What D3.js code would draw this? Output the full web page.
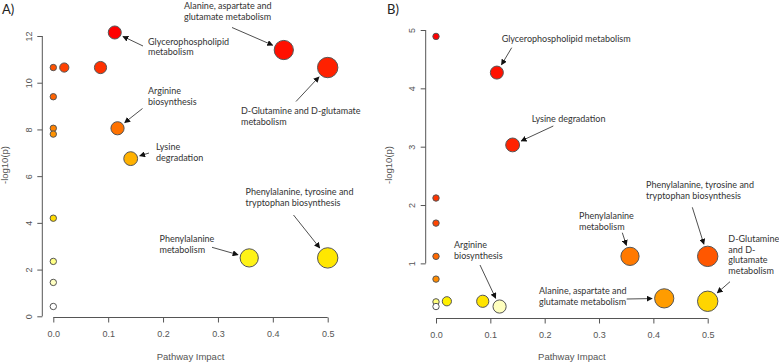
<!DOCTYPE html>
<html>
<head>
<meta charset="utf-8">
<script src="https://cdn.jsdelivr.net/npm/d3@7"></script>
<style>
  body { margin: 0; background: #fff; }
  svg { display: block; }
  .tick text, .axis-title { font-family: "Liberation Sans", Arial, sans-serif; fill: #555; }
  .note { font-family: Lato, "Open Sans", sans-serif; font-size: 9px; fill: #333; }
</style>
</head>
<body>
<div id="chart"></div>
<script>
var width = 779;
var height = 364;

// panel A
var impactA = [0.112, 0.42, 0.5, 0.086, 0.02, 0.0, 0.0, 0.117, 0.0, 0.0, 0.141, 0.0, 0.5, 0.357, 0.0, 0.0, 0.0];
var logpA   = [12.15, 11.4, 10.65, 10.65, 10.65, 10.65, 9.4, 8.05, 8.05, 7.8, 6.75, 4.2, 2.5, 2.5, 2.35, 1.45, 0.42];
var namesA  = ['Glycerophospholipid', 'Alanine', 'D-Glutamine', '', '', '', '', 'Arginine', '', '', 'Lysine', '',
               'PheTyrTrp', 'Phenylalanine', '', '', ''];

// panel B
var impactB = [0.0, 0.112, 0.141, 0.0, 0.0, 0.5, 0.0, 0.357, 0.0, 0.42, 0.5, 0.086, 0.02, 0.0, 0.117, 0.0];
var logpB   = [4.89, 4.27, 3.03, 2.12, 1.69, 1.12, 1.12, 1.12, 0.73, 0.40, 0.35, 0.35, 0.35, 0.34, 0.26, 0.26];
var namesB  = ['', 'Glycerophospholipid', 'Lysine', '', '', 'PheTyrTrp', '', 'Phenylalanine', '', 'Alanine',
               'D-Glutamine', '', '', '', 'Arginine', ''];

var xTicks = [0, 0.1, 0.2, 0.3, 0.4, 0.5];
var yTicksA = [0, 2, 4, 6, 8, 10, 12];
var yTicksB = [1, 2, 3, 4, 5];

// label layout (pixels): lines, text left/top-line center, arrow tail
var notesA = [
  { name: 'Glycerophospholipid', lines: ['Glycerophospholipid', 'metabolism'], x: 148, y: 41.5, tail: [143, 46] },
  { name: 'Alanine', lines: ['Alanine, aspartate and', 'glutamate metabolism'], x: 184, y: 6, tail: [232, 27.5] },
  { name: 'D-Glutamine', lines: ['D-Glutamine and D-glutamate', 'metabolism'], x: 241, y: 111, tail: [296, 101.5] },
  { name: 'Arginine', lines: ['Arginine', 'biosynthesis'], x: 148, y: 91.3, tail: [142.5, 108.5] },
  { name: 'Lysine', lines: ['Lysine', 'degradation'], x: 156, y: 147.3, tail: [149, 153] },
  { name: 'Phenylalanine', lines: ['Phenylalanine', 'metabolism'], x: 159.5, y: 239.3, tail: [212, 247.3] },
  { name: 'PheTyrTrp', lines: ['Phenylalanine, tyrosine and', 'tryptophan biosynthesis'], x: 245.5, y: 192.3, tail: [293.5, 215] }
];
var notesB = [
  { name: 'Glycerophospholipid', lines: ['Glycerophospholipid metabolism'], x: 501.7, y: 38.7, tail: [511.7, 47.7] },
  { name: 'Lysine', lines: ['Lysine degradation'], x: 531.7, y: 118.7, tail: [553.3, 126] },
  { name: 'PheTyrTrp', lines: ['Phenylalanine, tyrosine and', 'tryptophan biosynthesis'], x: 646, y: 185, tail: [692.3, 207.3] },
  { name: 'Phenylalanine', lines: ['Phenylalanine', 'metabolism'], x: 579, y: 215.7, tail: [622.3, 232.7] },
  { name: 'D-Glutamine', lines: ['D-Glutamine', 'and D-', 'glutamate', 'metabolism'], x: 728.3, y: 238.7, tail: [730, 281.7] },
  { name: 'Alanine', lines: ['Alanine, aspartate and', 'glutamate metabolism'], x: 539, y: 290.7, tail: [626.7, 299] },
  { name: 'Arginine', lines: ['Arginine', 'biosynthesis'], x: 454, y: 245, tail: [480, 265] }
];

var svg = d3.select('#chart')
  .append('svg')
  .attr('width', width)
  .attr('height', height);

var defs = svg.append('defs');
defs.append('marker')
  .attr('id', 'head')
  .attr('viewBox', '0 0 10 10')
  .attr('refX', 9)
  .attr('refY', 5)
  .attr('markerWidth', 6)
  .attr('markerHeight', 6)
  .attr('markerUnits', 'userSpaceOnUse')
  .attr('orient', 'auto')
  .append('path')
  .attr('d', 'M0,0L10,5L0,10Z')
  .attr('fill', '#111');

// heat colours by rank (red -> yellow -> white), like R heat.colors
var heat = d3.scaleLinear()
  .domain([0, 0.6, 0.67, 0.8, 0.87, 1])
  .range(['#ff0000', '#ff9c00', '#ffd800', '#fff000', '#ffff80', '#ffffff']);

var rScale = d3.scaleSqrt().domain([0, 0.5]).range([3.2, 10.2]);

function panel(opt) {
  var x = d3.scaleLinear().domain([0, 0.5]).range(opt.xRange);
  var y = d3.scaleLinear().domain(opt.yDomain).range(opt.yRange);
  var g = svg.append('g');

  // x axis
  var xa = g.append('g')
    .attr('transform', 'translate(0,' + opt.xAxisY + ')')
    .call(d3.axisBottom(x).tickValues(xTicks).tickFormat(d3.format('.1f')).tickSize(5).tickSizeOuter(0));
  xa.select('.domain').remove();
  xa.append('line').attr('x1', x(0)).attr('x2', x(0.5)).attr('stroke', '#555');
  xa.selectAll('.tick line').attr('stroke', '#555');
  xa.selectAll('.tick text').attr('font-size', 9).attr('y', 13);

  // y axis
  var ya = g.append('g')
    .attr('transform', 'translate(' + opt.yAxisX + ',0)')
    .call(d3.axisLeft(y).tickValues(opt.yTicks).tickFormat(d3.format('d')).tickSize(5).tickSizeOuter(0));
  ya.select('.domain').remove();
  ya.append('line')
    .attr('y1', y(opt.yTicks[0]))
    .attr('y2', y(opt.yTicks[opt.yTicks.length - 1]))
    .attr('stroke', '#555');
  ya.selectAll('.tick line').attr('stroke', '#555');
  ya.selectAll('.tick text')
    .attr('font-size', 9)
    .attr('transform', 'rotate(-90)')
    .attr('x', 0)
    .attr('y', -10.5)
    .attr('dy', 0)
    .attr('text-anchor', 'middle');

  // titles
  g.append('text').attr('class', 'axis-title')
    .attr('x', (x(0) + x(0.5)) / 2).attr('y', 360)
    .attr('text-anchor', 'middle').attr('font-size', 9.5)
    .text('Pathway Impact');
  g.append('text').attr('class', 'axis-title')
    .attr('transform', 'translate(' + (opt.yAxisX - 34) + ',' + 165 + ') rotate(-90)')
    .attr('text-anchor', 'middle').attr('font-size', 9.5)
    .text('-log10(p)');
  g.append('text')
    .attr('x', opt.tagX).attr('y', 14)
    .attr('font-family', 'Lato, sans-serif').attr('font-size', 13)
    .attr('fill', '#222')
    .text(opt.tag);

  // points
  var pts = opt.impact.map(function (v, i) {
    return { impact: v, logp: opt.logp[i], name: opt.names[i] };
  });
  var sorted = pts.slice().sort(function (a, b) { return b.logp - a.logp; });
  sorted.forEach(function (d, i) { d.rank = i / (sorted.length - 1); });

  g.selectAll('circle')
    .data(sorted)
    .enter()
    .append('circle')
    .attr('cx', function (d) { return x(d.impact); })
    .attr('cy', function (d) { return y(d.logp); })
    .attr('r', function (d) { return rScale(d.impact); })
    .attr('fill', function (d) { return heat(d.rank); })
    .attr('stroke', '#555')
    .attr('stroke-width', 1);

  // annotations
  opt.notes.forEach(function (n) {
    var p = pts.filter(function (d) { return d.name === n.name; })[0];
    var cx = x(p.impact), cy = y(p.logp), r = rScale(p.impact) + 2.5;
    var dx = n.tail[0] - cx, dy = n.tail[1] - cy, len = Math.sqrt(dx * dx + dy * dy);
    g.append('line')
      .attr('x1', n.tail[0]).attr('y1', n.tail[1])
      .attr('x2', cx + dx / len * r).attr('y2', cy + dy / len * r)
      .attr('stroke', '#222').attr('stroke-width', 0.8)
      .attr('marker-end', 'url(#head)');
    var t = g.append('text').attr('class', 'note');
    n.lines.forEach(function (s, i) {
      t.append('tspan')
        .attr('x', n.x)
        .attr('y', n.y + i * 10.8)
        .attr('dy', '0.35em')
        .text(s);
    });
  });
}

panel({
  tag: 'A)', tagX: 2,
  impact: impactA, logp: logpA, names: namesA, notes: notesA,
  xRange: [53.3, 327.7], yDomain: [0, 12], yRange: [316.3, 36],
  yTicks: yTicksA, xAxisY: 317.5, yAxisX: 42.3
});

panel({
  tag: 'B)', tagX: 387,
  impact: impactB, logp: logpB, names: namesB, notes: notesB,
  xRange: [436, 707.7], yDomain: [0, 5], yRange: [321.7, 30],
  yTicks: yTicksB, xAxisY: 318.5, yAxisX: 425.7
});
</script>
</body>
</html>
